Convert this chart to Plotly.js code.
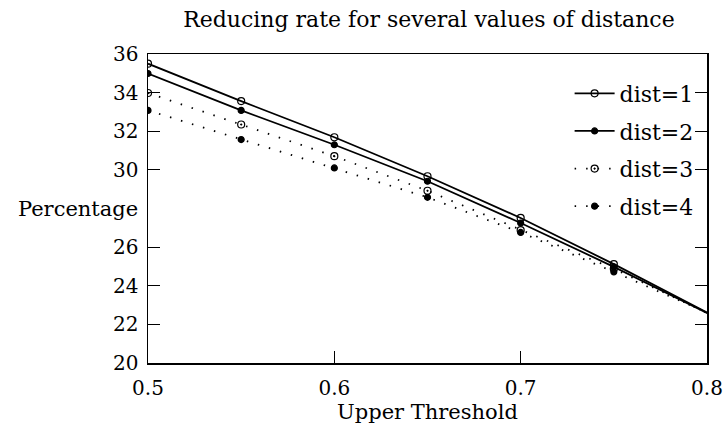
<!DOCTYPE html>
<html>
<head>
<meta charset="utf-8">
<script src="https://cdn.plot.ly/plotly-3.0.1.min.js"></script>
<style>html,body{margin:0;padding:0;background:#fff;}#chart{width:727px;height:437px;}</style>
</head>
<body>
<div id="chart"></div>
<script>
// Upper threshold values (last point lies just beyond the visible range)
const thresholds = [0.5, 0.55, 0.6, 0.65, 0.7, 0.75, 0.85];
const dist1 = [35.5, 33.56, 31.69, 29.67, 27.51, 25.12, 20.1];
const dist2 = [34.99, 33.08, 31.30, 29.41, 27.25, 24.98, 20.2];
const dist3 = [33.98, 32.35, 30.71, 28.92, 26.88, 24.88, 20.3];
const dist4 = [33.08, 31.57, 30.10, 28.58, 26.76, 24.72, 20.5];
const seriesNames = ['dist=1', 'dist=2', 'dist=3', 'dist=4'];
const yTickVals = [20, 22, 24, 26, 30, 32, 34, 36];
const yTickText = ['20', '22', '24', '26', '30', '32', '34', '36'];
const xTickVals = [0.5, 0.6, 0.7, 0.8];
const xTickText = ['0.5', '0.6', '0.7', '0.8'];

const FONT = 'DejaVu Serif';
const allSeries = [dist1, dist2, dist3, dist4];
const styles = [
  {dash: 'solid', symbol: 'circle-open', size: 7},
  {dash: 'solid', symbol: 'circle', size: 6},
  {dash: '1.5px,10px', symbol: 'circle-open-dot', size: 7},
  {dash: '1.5px,10px', symbol: 'circle', size: 6}
];

const traces = allSeries.map((ys, i) => ({
  x: thresholds,
  y: ys,
  name: seriesNames[i],
  legendgroup: 'g' + i,
  type: 'scatter',
  mode: 'lines+markers',
  line: {color: '#000', width: 1.8, dash: styles[i].dash},
  marker: {color: '#000', symbol: styles[i].symbol, size: styles[i].size, line: {color: '#000', width: 1.2}},
  cliponaxis: true
}));

const layout = {
  width: 727, height: 437,
  margin: {l: 148, r: 20, t: 54, b: 74},
  paper_bgcolor: '#fff', plot_bgcolor: '#fff',
  font: {family: FONT, color: '#000', size: 18},
  title: {text: 'Reducing rate for several values of distance', x: 0.59, xanchor: 'center', y: 0.955, yanchor: 'middle', font: {family: FONT, size: 22, color: '#000'}},
  xaxis: {
    range: [0.5, 0.8], tickvals: xTickVals, ticktext: xTickText,
    ticks: 'inside', ticklen: 12, tickwidth: 1.2, tickcolor: '#000',
    showline: true, linecolor: '#000', linewidth: 1.5, mirror: true,
    showgrid: false, zeroline: false,
    tickfont: {family: FONT, size: 20, color: '#000'},
    ticklabelstandoff: 6,
    title: {text: 'Upper Threshold', font: {family: FONT, size: 21, color: '#000'}, standoff: 6}
  },
  yaxis: {
    range: [20, 36], tickvals: yTickVals, ticktext: yTickText,
    ticks: 'inside', ticklen: 12, tickwidth: 1.2, tickcolor: '#000',
    showline: true, linecolor: '#000', linewidth: 1.5, mirror: 'ticks',
    showgrid: false, zeroline: false,
    tickfont: {family: FONT, size: 20, color: '#000'},
    ticklabelstandoff: 4
  },
  showlegend: true,
  legend: {
    x: 0.985, xanchor: 'right', y: 0.94, yanchor: 'top',
    bgcolor: 'rgba(0,0,0,0)', borderwidth: 0,
    font: {family: FONT, size: 22, color: '#000'},
    tracegroupgap: 6, itemwidth: 40
  },
  annotations: [{
    text: 'Percentage', xref: 'paper', yref: 'y', x: 0, y: 28,
    xanchor: 'right', yanchor: 'middle', xshift: -8, showarrow: false,
    font: {family: FONT, size: 21, color: '#000'}
  }]
};

Plotly.newPlot('chart', traces, layout, {displayModeBar: false, staticPlot: true});
</script>
</body>
</html>
